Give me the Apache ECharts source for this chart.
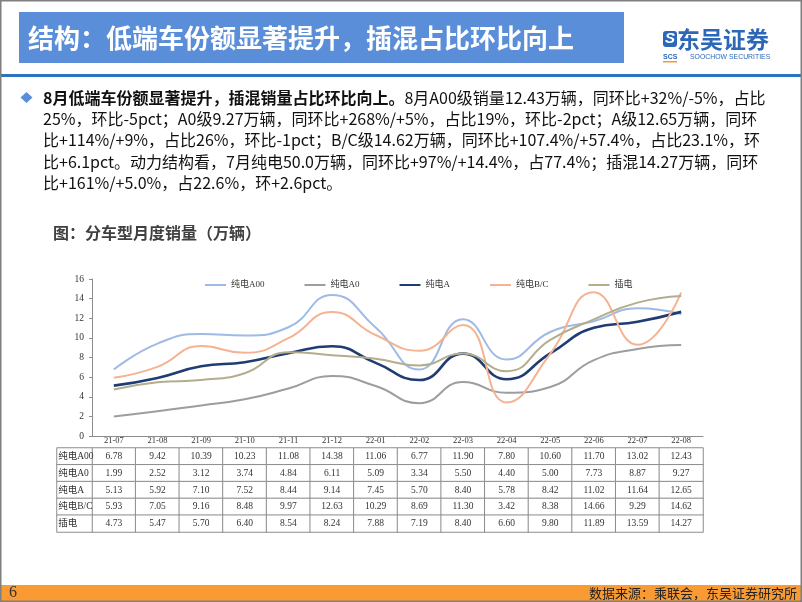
<!DOCTYPE html>
<html>
<head>
<meta charset="utf-8">
<script src="https://cdn.jsdelivr.net/npm/echarts/dist/echarts.min.js"></script>
<style>
  html, body { margin: 0; padding: 0; background: #fff; }
  #main { width: 802px; height: 602px; }
</style>
</head>
<body>
<div id="main"></div>
<script>
// data
const months = ['21-07', '21-08', '21-09', '21-10', '21-11', '21-12', '22-01', '22-02', '22-03', '22-04', '22-05', '22-06', '22-07', '22-08'];
const seriesNames = ['纯电A00', '纯电A0', '纯电A', '纯电B/C', '插电'];
const evA00 = [6.78, 9.42, 10.39, 10.23, 11.08, 14.38, 11.06, 6.77, 11.90, 7.80, 10.60, 11.70, 13.02, 12.43];
const evA0 = [1.99, 2.52, 3.12, 3.74, 4.84, 6.11, 5.09, 3.34, 5.50, 4.40, 5.00, 7.73, 8.87, 9.27];
const evA = [5.13, 5.92, 7.10, 7.52, 8.44, 9.14, 7.45, 5.70, 8.40, 5.78, 8.42, 11.02, 11.64, 12.65];
const evBC = [5.93, 7.05, 9.16, 8.48, 9.97, 12.63, 10.29, 8.69, 11.30, 3.42, 8.38, 14.66, 9.29, 14.62];
const phev = [4.73, 5.47, 5.70, 6.40, 8.54, 8.24, 7.88, 7.19, 8.40, 6.60, 9.80, 11.89, 13.59, 14.27];
const yTicks = [0, 2, 4, 6, 8, 10, 12, 14, 16];

const rows = [evA00, evA0, evA, evBC, phev];
const colors = ['#9fbae4', '#9d9d9d', '#1f3c73', '#f5b393', '#b3ad8c'];
const widths = [2, 2, 2.6, 2, 2];

const serif = "'Liberation Serif', 'Noto Sans CJK SC'";
const cjk = "'Noto Sans CJK SC', 'Noto Sans'";
const gridColor = '#8c8c8c';

// table cells: [column, row, value]
const tableCells = [];
rows.forEach((arr, r) => arr.forEach((v, c) => tableCells.push([c, r, v])));
const labelCells = seriesNames.map((n, r) => [0, r, 0]);

const bodyLines = [
  '{b|8月低端车份额显著提升，插混销量占比环比向上。}8月A00级销量12.43万辆，同环比+32%/-5%，占比',
  '25%，环比-5pct；A0级9.27万辆，同环比+268%/+5%，占比19%，环比-2pct；A级12.65万辆，同环',
  '比+114%/+9%，占比26%，环比-1pct；B/C级14.62万辆，同环比+107.4%/+57.4%，占比23.1%，环',
  '比+6.1pct。动力结构看，7月纯电50.0万辆，同环比+97%/+14.4%，占77.4%；插混14.27万辆，同环',
  '比+161%/+5.0%，占22.6%，环+2.6pct。'
];

const chart = echarts.init(document.getElementById('main'));

const graphics = [
  // title bar
  { type: 'rect', shape: { x: 19, y: 12, width: 605, height: 51 }, style: { fill: '#5a8ed8' } },
  { type: 'text', x: 28, y: 38, style: { text: '结构：低端车份额显著提升，插混占比环比向上', fill: '#fff', fontSize: 26, fontWeight: 'bold', fontFamily: cjk, verticalAlign: 'middle' } },
  // logo
  { type: 'rect', shape: { x: 663, y: 31, width: 14, height: 16, r: 3 }, style: { fill: '#2d68b8' } },
  { type: 'text', x: 670, y: 39, style: { text: 'S', fill: '#fff', fontSize: 15, fontWeight: 'bold', fontStyle: 'italic', fontFamily: 'Liberation Sans', align: 'center', verticalAlign: 'middle' } },
  { type: 'text', x: 677, y: 39, style: { text: '东吴证券', fill: '#2d68b8', fontSize: 23, fontWeight: 'bold', fontFamily: cjk, verticalAlign: 'middle' } },
  { type: 'text', x: 663, y: 57, style: { text: 'SCS', fill: '#2d68b8', fontSize: 7, fontWeight: 'bold', fontFamily: 'Liberation Sans', verticalAlign: 'middle' } },
  { type: 'rect', shape: { x: 663, y: 61, width: 14, height: 1.5 }, style: { fill: '#f39a2c' } },
  { type: 'text', x: 690, y: 57, scaleX: 0.86, style: { text: 'SOOCHOW SECURITIES', fill: '#2d68b8', fontSize: 8, fontFamily: 'Liberation Sans', verticalAlign: 'middle' } },
  // blue rule
  { type: 'rect', shape: { x: 0, y: 74, width: 802, height: 3 }, style: { fill: '#2b74c4' } },
  // bullet
  { type: 'polygon', shape: { points: [[26.5, 92], [32.5, 97.5], [26.5, 103], [20.5, 97.5]] }, style: { fill: '#5a8ed8' } },
  // chart title
  { type: 'text', x: 53, y: 233, style: { text: '图：分车型月度销量（万辆）', fill: '#404040', fontSize: 16, fontWeight: 'bold', fontFamily: cjk, verticalAlign: 'middle' } },
  // footer
  { type: 'rect', shape: { x: 0, y: 585, width: 802, height: 16 }, style: { fill: '#f99b32' } },
  { type: 'text', x: 9, y: 593, style: { text: '6', fill: '#333', fontSize: 16, fontFamily: 'Liberation Serif', verticalAlign: 'middle' } },
  { type: 'text', x: 797, y: 593, style: { text: '数据来源：乘联会，东吴证券研究所', fill: '#222', fontSize: 13, fontFamily: cjk, align: 'right', verticalAlign: 'middle' } },
  // slide border
  { type: 'rect', shape: { x: 0.75, y: 0.75, width: 800.5, height: 600.5 }, style: { fill: 'none', stroke: '#7f7f7f', lineWidth: 1.5 }, z: 100 }
];

bodyLines.forEach((t, i) => {
  graphics.push({
    type: 'text', x: 43, y: 98 + i * 21.2,
    style: {
      text: t, fill: '#111', fontSize: 16, fontFamily: cjk, verticalAlign: 'middle',
      rich: { b: { fontSize: 16, fontWeight: 'bold', fontFamily: cjk, fill: '#111' } }
    }
  });
});

const lineSeries = seriesNames.map((name, i) => ({
  name: name,
  type: 'line',
  xAxisIndex: 0,
  yAxisIndex: 0,
  data: rows[i],
  smooth: true,
  symbol: 'none',
  lineStyle: { color: colors[i], width: widths[i] },
  itemStyle: { color: colors[i] },
  silent: true
}));

chart.setOption({
  animation: false,
  textStyle: { fontFamily: serif },
  graphic: graphics,
  legend: {
    data: seriesNames.map((n, i) => ({ name: n, icon: 'rect', itemStyle: { color: colors[i] } })),
    left: 200,
    top: 274,
    itemWidth: 21,
    itemHeight: 2,
    itemGap: 40,
    textStyle: { fontSize: 9, color: '#333', fontFamily: serif, lineHeight: 12 }
  },
  grid: [
    { left: 92, top: 279, width: 611, height: 157 },
    { left: 92, top: 448, width: 611, height: 84 },
    { left: 57, top: 448, width: 35, height: 84 }
  ],
  xAxis: [
    {
      gridIndex: 0, type: 'category', data: months, boundaryGap: true,
      axisLine: { lineStyle: { color: gridColor, width: 1 } },
      axisTick: { length: 12, lineStyle: { color: gridColor } },
      axisLabel: { margin: 1, fontSize: 8.5, color: '#333', fontFamily: serif }
    },
    { gridIndex: 1, type: 'category', data: months, show: false },
    { gridIndex: 2, type: 'category', data: ['name'], show: false }
  ],
  yAxis: [
    {
      gridIndex: 0, type: 'value', min: yTicks[0], max: yTicks[yTicks.length - 1], interval: 2,
      axisLine: { show: true, lineStyle: { color: gridColor } },
      axisTick: { show: true, length: 3, lineStyle: { color: gridColor } },
      axisLabel: { fontSize: 9.5, color: '#333', margin: 8, fontFamily: serif },
      splitLine: { show: false }
    },
    { gridIndex: 1, type: 'category', data: seriesNames, inverse: true, show: false },
    { gridIndex: 2, type: 'category', data: seriesNames, inverse: true, show: false }
  ],
  visualMap: {
    show: false, type: 'continuous', seriesIndex: [5, 6], dimension: 2,
    min: 0, max: 100, inRange: { color: ['#ffffff', '#ffffff'] }
  },
  series: lineSeries.concat([
    {
      type: 'heatmap', xAxisIndex: 1, yAxisIndex: 1, data: tableCells, silent: true,
      itemStyle: { color: '#fff', borderColor: gridColor, borderWidth: 1 },
      label: { show: true, color: '#333', fontSize: 9.5, fontFamily: serif, formatter: p => p.data[2].toFixed(2) },
      emphasis: { disabled: true }
    },
    {
      type: 'heatmap', xAxisIndex: 2, yAxisIndex: 2, data: labelCells, silent: true,
      itemStyle: { color: '#fff', borderColor: gridColor, borderWidth: 1 },
      label: {
        show: true, color: '#333', fontSize: 9.5, fontFamily: serif,
        position: 'insideLeft', distance: 2,
        formatter: p => seriesNames[p.data[1]]
      },
      emphasis: { disabled: true }
    }
  ])
});
</script>
</body>
</html>
